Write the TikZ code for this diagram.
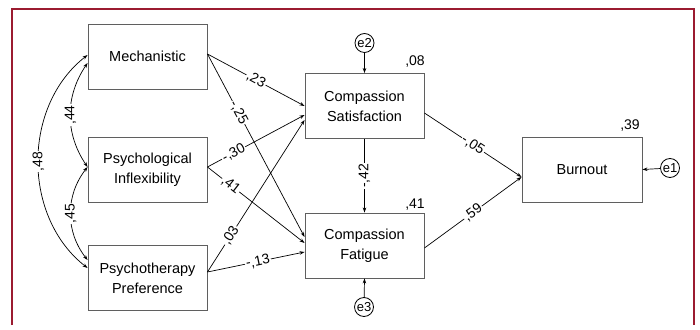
\documentclass[tikz,border=0pt]{standalone}
\usepackage{fontspec}
\setmainfont{Liberation Sans}
\usetikzlibrary{arrows.meta}
\definecolor{framered}{RGB}{155,27,48}
\definecolor{boxline}{RGB}{95,95,95}
\begin{document}
\begin{tikzpicture}[x=1pt,y=1pt,
  box/.style={draw=boxline, line width=0.9pt, minimum width=119pt, minimum height=65pt, align=center, font=\fontsize{14.5}{20}\selectfont, inner sep=0pt},
  err/.style={circle, draw=black, line width=0.8pt, minimum size=19pt, inner sep=0pt, font=\fontsize{13}{13}\selectfont},
  conn/.style={draw, line width=0.7pt, -{Stealth[length=5pt,width=3.5pt]}},
  cov/.style={draw, line width=0.7pt, {Stealth[length=5pt,width=3.5pt]}-{Stealth[length=5pt,width=3.5pt]}},
  lab/.style={fill=white, inner sep=1pt, font=\fontsize{14}{14}\selectfont},
  rsq/.style={font=\fontsize{14}{14}\selectfont, inner sep=0pt},
]
\fill[white] (0,0) rectangle (700,329);
\useasboundingbox (0,0) rectangle (700,329);
\draw[framered, line width=1.2pt] (12,4) -- (12,320) -- (694,320) -- (694,4);

\node[box] (mech) at (147.5,272.5) {Mechanistic};
\node[box] (pi) at (147.5,159) {Psychological\\Inflexibility};
\node[box] (pp) at (147.5,51) {Psychotherapy\\Preference};
\node[box] (cs) at (364.5,223) {Compassion\\Satisfaction};
\node[box] (cf) at (364.5,83.5) {Compassion\\Fatigue};
\node[box, minimum width=120pt] (bo) at (582,159.5) {Burnout};

\node[err] (e2) at (364.5,286) {e2};
\node[err] (e3) at (364,22) {e3};
\node[err] (e1) at (670,161) {e1};

\node[rsq] (r08) at (415,267) {,08};
\node[rsq] (r41) at (415,124) {,41};
\node[rsq] (r39) at (630,203) {,39};

% covariances
\draw[cov] ([yshift=1.5pt]mech.west) to[bend right=52] node[lab, midway, rotate=90] {,48} ([yshift=10pt]pp.west);
\draw[cov] ([yshift=-6.5pt]mech.west) to[bend right=34] node[lab, midway, rotate=90] {,44} ([yshift=3pt]pi.west);
\draw[cov] ([yshift=3pt]pi.west) to[bend right=38] node[lab, midway, rotate=90] {,45} ([yshift=18pt]pp.west);

% paths
\draw[conn] ([yshift=2.5pt]mech.east) -- node[lab, pos=0.5, sloped] {,23} (cs.west);
\draw[conn] ([yshift=2.5pt]mech.east) -- node[lab, pos=0.32, sloped] {-,25} ([yshift=8.5pt]cf.west);
\draw[conn] ([yshift=3pt]pi.east) -- node[lab, pos=0.27, sloped] {-,30} ([yshift=-9pt]cs.west);
\draw[conn] ([yshift=3pt]pi.east) -- node[lab, pos=0.24, sloped] {,41} ([yshift=2.5pt]cf.west);
\draw[conn] ([yshift=6pt]pp.east) -- node[lab, pos=0.24, sloped] {,03} ([yshift=-14pt]cs.west);
\draw[conn] ([yshift=6pt]pp.east) -- node[lab, pos=0.52, sloped] {-,13} ([yshift=-6.5pt]cf.west);
\draw[conn] (cs.south) -- node[lab, midway, rotate=90] {-,42} (cf.north);
\draw[conn] ([yshift=-7pt]cs.east) -- node[lab, pos=0.5, sloped] {-,05} ([yshift=-7.5pt]bo.west);
\draw[conn] ([yshift=-2.5pt]cf.east) -- node[lab, pos=0.5, sloped] {,59} ([yshift=-7.5pt]bo.west);

% errors
\draw[conn] (e2) -- (cs.north);
\draw[conn] (e3) -- (cf.south);
\draw[conn] (e1) -- (bo.east);
\end{tikzpicture}
\end{document}
